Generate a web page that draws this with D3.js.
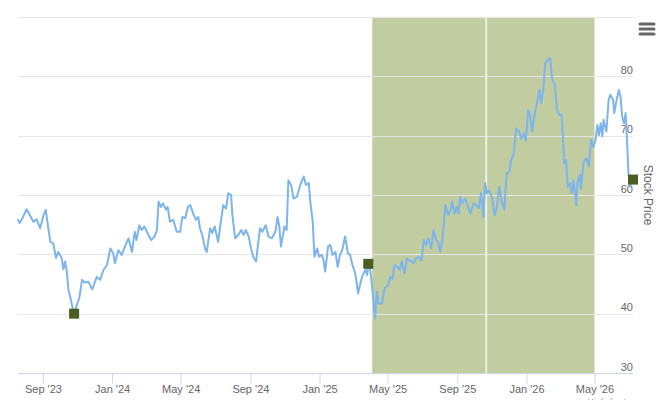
<!DOCTYPE html>
<html>
<head>
<meta charset="utf-8">
<script src="https://cdn.jsdelivr.net/npm/d3@7"></script>
<style>
  body { margin: 0; background: #fff; }
  svg { display: block; font-family: "Lucida Grande", "Lucida Sans Unicode", Arial, Helvetica, sans-serif; }
</style>
</head>
<body>
<div id="chart"></div>
<script>
// price series
var dates = [
  "2023-07-19","2023-07-22","2023-07-28","2023-08-03","2023-08-09","2023-08-15","2023-08-21","2023-08-27",
  "2023-09-02","2023-09-06","2023-09-10","2023-09-14","2023-09-19","2023-09-24","2023-09-28","2023-10-04",
  "2023-10-07","2023-10-10","2023-10-13","2023-10-16","2023-10-19","2023-10-23","2023-10-26","2023-10-31",
  "2023-11-04","2023-11-09","2023-11-14","2023-11-20","2023-11-27","2023-12-05","2023-12-11","2023-12-17",
  "2023-12-23","2023-12-29","2024-01-03","2024-01-06","2024-01-12","2024-01-18","2024-01-24","2024-01-30",
  "2024-02-05","2024-02-10","2024-02-13","2024-02-18","2024-02-22","2024-02-27","2024-03-05","2024-03-10",
  "2024-03-16","2024-03-20","2024-03-23","2024-03-27","2024-03-31","2024-04-05","2024-04-08","2024-04-12",
  "2024-04-18","2024-04-24","2024-04-30","2024-05-04","2024-05-09","2024-05-14","2024-05-18","2024-05-24",
  "2024-05-28","2024-06-01","2024-06-04","2024-06-08","2024-06-13","2024-06-16","2024-06-22","2024-06-26",
  "2024-06-30","2024-07-06","2024-07-10","2024-07-15","2024-07-20","2024-07-24","2024-07-29","2024-07-31",
  "2024-08-05","2024-08-11","2024-08-16","2024-08-20","2024-08-24","2024-08-29","2024-09-02","2024-09-06",
  "2024-09-11","2024-09-14","2024-09-18","2024-09-22","2024-09-28","2024-10-03","2024-10-09","2024-10-15",
  "2024-10-19","2024-10-22","2024-10-25","2024-10-31","2024-11-04","2024-11-07","2024-11-12","2024-11-16",
  "2024-11-22","2024-11-28","2024-12-04","2024-12-08","2024-12-13","2024-12-16","2024-12-20","2024-12-23",
  "2024-12-28","2024-12-31","2025-01-05","2025-01-08","2025-01-11","2025-01-16","2025-01-20","2025-01-24",
  "2025-01-29","2025-02-02","2025-02-06","2025-02-10","2025-02-15","2025-02-20","2025-02-24","2025-02-28",
  "2025-03-05","2025-03-10","2025-03-14","2025-03-18","2025-03-23","2025-03-26","2025-03-28","2025-03-30",
  "2025-04-02","2025-04-06","2025-04-09","2025-04-12","2025-04-15","2025-04-21","2025-04-26","2025-05-02",
  "2025-05-06","2025-05-10","2025-05-13","2025-05-18","2025-05-22","2025-05-26","2025-05-31","2025-06-04",
  "2025-06-08","2025-06-13","2025-06-16","2025-06-20","2025-06-25","2025-06-30","2025-07-04","2025-07-08",
  "2025-07-12","2025-07-17","2025-07-21","2025-07-26","2025-07-29","2025-08-02","2025-08-06","2025-08-11",
  "2025-08-16","2025-08-20","2025-08-23","2025-08-27","2025-08-31","2025-09-03","2025-09-06","2025-09-10",
  "2025-09-15","2025-09-20","2025-09-24","2025-09-30","2025-10-04","2025-10-09","2025-10-13","2025-10-17",
  "2025-10-20","2025-10-23","2025-10-27","2025-11-01","2025-11-06","2025-11-10","2025-11-14","2025-11-19",
  "2025-11-23","2025-11-27","2025-12-02","2025-12-05","2025-12-09","2025-12-14","2025-12-18","2025-12-23",
  "2025-12-27","2025-12-31","2026-01-04","2026-01-08","2026-01-11","2026-01-16","2026-01-20","2026-01-24",
  "2026-01-27","2026-01-31","2026-02-03","2026-02-08","2026-02-12","2026-02-15","2026-02-20","2026-02-24",
  "2026-02-28","2026-03-04","2026-03-06","2026-03-09","2026-03-12","2026-03-15","2026-03-19","2026-03-22",
  "2026-03-25","2026-03-30","2026-04-01","2026-04-05","2026-04-07","2026-04-12","2026-04-17","2026-04-21",
  "2026-04-25","2026-04-29","2026-05-03","2026-05-06","2026-05-09","2026-05-12","2026-05-15","2026-05-17",
  "2026-05-22","2026-05-26","2026-05-29","2026-06-03","2026-06-05","2026-06-09","2026-06-13","2026-06-16",
  "2026-06-19","2026-06-22","2026-06-25","2026-06-28","2026-06-30","2026-07-03","2026-07-06","2026-07-08"
];
var prices = [
  55.8,55.3,56.3,57.6,56.6,55.5,55.9,54.4,
  56.6,57.5,54.7,52.1,51.9,49.4,50.4,49.4,
  47.5,48.8,47.2,44.0,42.9,41.1,40.0,41.5,
  42.6,45.7,45.2,45.4,44.1,46.2,45.7,47.4,
  48.2,51.0,50.2,48.5,50.7,49.9,51.4,52.7,
  50.4,53.8,52.4,54.9,54.1,54.7,53.3,52.4,
  53.0,54.1,58.9,58.0,58.6,57.5,58.0,55.5,
  55.8,53.8,53.8,56.3,56.1,58.0,58.3,56.6,
  55.8,56.3,54.4,53.3,51.0,50.4,54.4,53.6,
  54.7,52.1,54.9,58.3,57.7,60.3,60.0,56.9,
  52.7,53.3,54.1,53.3,54.1,53.0,51.0,49.6,
  48.8,51.3,54.4,53.8,54.9,53.0,52.7,53.8,
  56.3,54.7,51.3,54.7,54.1,62.5,61.7,59.4,
  59.7,61.7,63.1,61.7,62.0,58.6,55.5,49.6,
  51.0,49.6,49.9,49.0,47.1,51.3,51.6,49.9,
  50.4,47.9,49.9,50.7,53.0,50.2,49.9,48.2,
  46.8,43.4,45.1,46.5,47.4,46.5,48.4,48.2,
  46.2,42.3,39.2,43.7,41.7,41.7,44.3,44.8,
  46.2,45.9,48.2,47.9,47.4,48.8,46.8,49.3,
  49.0,48.8,48.5,49.3,49.6,49.0,52.4,51.6,
  52.7,51.0,54.1,52.4,52.1,50.4,52.7,58.3,
  56.6,57.5,58.9,56.9,58.0,56.9,59.7,58.6,
  59.4,58.0,56.9,58.6,58.3,57.8,60.3,56.3,
  62.0,60.3,60.8,59.7,56.6,58.0,61.4,58.6,
  57.5,63.6,63.9,65.9,66.7,71.2,70.9,69.5,
  70.4,69.2,74.3,73.2,70.7,73.9,75.7,77.7,
  75.5,78.0,82.2,82.8,83.0,79.7,78.5,74.3,
  73.5,73.5,70.5,65.3,65.9,61.4,62.0,60.3,
  62.5,58.3,62.0,63.4,61.1,65.6,66.2,64.8,
  69.3,68.1,69.3,71.8,70.1,72.1,69.9,72.7,
  70.7,76.0,76.9,76.0,73.8,76.0,77.7,76.6,
  73.2,72.1,73.8,68.1,63.6,61.4,63.1,62.6
];

// square markers
var markerDates = ["2023-10-26", "2025-03-28", "2026-07-08"];
var markerValues = [40.0, 48.4, 62.6];

// shaded period and the line inside it
var bandFrom = "2025-04-04", bandTo = "2026-05-01";
var lineAt = "2025-10-22";

var yTicks = [30, 40, 50, 60, 70, 80, 90];
var yLabels = [30, 40, 50, 60, 70, 80];
var yTitle = "Stock Price";
var credits = "Highcharts.com";

var width = 660, height = 400;
var plotLeft = 18, plotRight = 633, plotTop = 17, plotBottom = 373;

var parse = d3.utcParse("%Y-%m-%d");
var data = dates.map(function(d, i) { return { date: parse(d), value: prices[i] }; });
var marks = markerDates.map(function(d, i) { return { date: parse(d), value: markerValues[i] }; });

var x = d3.scaleUtc()
    .domain(d3.extent(data, function(d) { return d.date; }))
    .range([plotLeft, plotRight]);
var y = d3.scaleLinear().domain([30, 90]).range([plotBottom, plotTop]);

var svg = d3.select("#chart").append("svg")
    .attr("width", width)
    .attr("height", height);

svg.append("rect")
    .attr("width", width).attr("height", height)
    .attr("fill", "#ffffff");

// plot band
svg.append("rect")
    .attr("x", x(parse(bandFrom)))
    .attr("y", plotTop)
    .attr("width", x(parse(bandTo)) - x(parse(bandFrom)))
    .attr("height", plotBottom - plotTop)
    .attr("fill", "#c1cca1");

// grid
svg.selectAll("line.grid").data(yTicks.slice(1)).enter().append("line")
    .attr("class", "grid")
    .attr("x1", plotLeft).attr("x2", plotRight)
    .attr("y1", function(d) { return Math.round(y(d)) + 0.5; })
    .attr("y2", function(d) { return Math.round(y(d)) + 0.5; })
    .attr("stroke", "#e6e6e6")
    .attr("stroke-width", 1);

// plot line
svg.append("line")
    .attr("x1", x(parse(lineAt))).attr("x2", x(parse(lineAt)))
    .attr("y1", plotTop).attr("y2", plotBottom)
    .attr("stroke", "#eef0e4")
    .attr("stroke-width", 2);

// x axis
var xAxis = d3.axisBottom(x)
    .ticks(d3.utcMonth.every(4))
    .tickFormat(d3.utcFormat("%b '%y"))
    .tickSize(10)
    .tickPadding(2);

var gx = svg.append("g")
    .attr("transform", "translate(0," + (plotBottom + 0.5) + ")")
    .call(xAxis);
gx.select(".domain").remove();
gx.append("line")
    .attr("x1", plotLeft).attr("x2", plotRight)
    .attr("stroke", "#ccd6eb");
gx.selectAll(".tick line").attr("stroke", "#ccd6eb");
gx.selectAll(".tick text")
    .attr("fill", "#666666")
    .style("font-size", "11px")
    .style("font-family", "'Lucida Grande', 'Lucida Sans Unicode', Arial, Helvetica, sans-serif");

// y labels, inside the plot at the right edge
svg.selectAll("text.ylab").data(yLabels).enter().append("text")
    .attr("class", "ylab")
    .attr("x", plotRight)
    .attr("y", function(d) { return y(d) - 2.5; })
    .attr("text-anchor", "end")
    .attr("fill", "#666666")
    .style("font-size", "11px")
    .text(function(d) { return d; });

// series
var line = d3.line()
    .x(function(d) { return x(d.date); })
    .y(function(d) { return y(d.value); });

svg.append("path")
    .datum(data)
    .attr("d", line)
    .attr("fill", "none")
    .attr("stroke", "#7cb5ec")
    .attr("stroke-width", 2)
    .attr("stroke-linejoin", "round")
    .attr("stroke-linecap", "round");

svg.selectAll("rect.marker").data(marks).enter().append("rect")
    .attr("class", "marker")
    .attr("x", function(d) { return x(d.date) - 5; })
    .attr("y", function(d) { return y(d.value) - 5; })
    .attr("width", 10).attr("height", 10)
    .attr("fill", "#4b5d23");

// axis title
svg.append("text")
    .attr("transform", "translate(644," + ((plotTop + plotBottom) / 2) + ") rotate(90)")
    .attr("text-anchor", "middle")
    .attr("fill", "#666666")
    .style("font-size", "12px")
    .text(yTitle);

// menu button
svg.selectAll("line.menu").data([24, 29, 34]).enter().append("line")
    .attr("class", "menu")
    .attr("x1", 640).attr("x2", 654)
    .attr("y1", function(d) { return d; })
    .attr("y2", function(d) { return d; })
    .attr("stroke", "#666666")
    .attr("stroke-width", 3)
    .attr("stroke-linecap", "round");

// credits
svg.append("text")
    .attr("x", 650)
    .attr("y", 405)
    .attr("text-anchor", "end")
    .attr("fill", "#999999")
    .style("font-size", "9px")
    .text(credits);
</script>
</body>
</html>
